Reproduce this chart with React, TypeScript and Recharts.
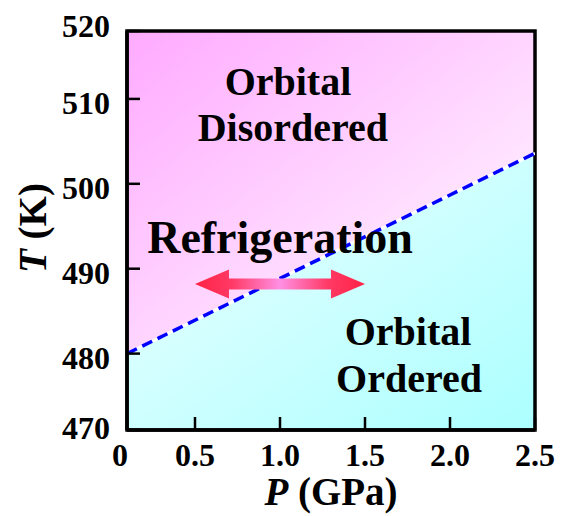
import React from 'react';
import {
  ComposedChart,
  Area,
  Line,
  Scatter,
  XAxis,
  YAxis,
  ReferenceArea,
  ReferenceLine,
  Label,
} from 'recharts';

// phase boundary T(P)
const boundaryP = [0.1, 2.5];
const boundaryT = [480, 503.6];

// axis extent as drawn (corner labels sit at the frame edges)
const pRange = [0.1, 2.5];
const tRange = [471, 518];

const xTickValues = [0.1, 0.5, 1.0, 1.5, 2.0, 2.5];
const xTickLabels = ['0', '0.5', '1.0', '1.5', '2.0', '2.5'];
const yTickValues = [471, 480, 490, 500, 510, 518];
const yTickLabels = ['470', '480', '490', '500', '510', '520'];

// refrigeration arrow (P from, P to, T)
const arrowP = [0.5, 1.5];
const arrowT = 488.2;

// region labels
const regionText = ['Orbital', 'Disordered', 'Orbital', 'Ordered'];
const regionP = [1.047, 1.076, 1.753, 1.759];
const regionT = [510.5, 505.0, 481.0, 475.5];

const mainText = ['Refrigeration'];
const mainP = [1.0];
const mainT = [491.9];

const boundary = boundaryP.map((p, i) => ({ p, t: boundaryT[i] }));
const regionLabels = regionText.map((text, i) => ({ p: regionP[i], t: regionT[i], text }));
const mainLabels = mainText.map((text, i) => ({ p: mainP[i], t: mainT[i], text }));

const FONT = "'Liberation Serif', 'Times New Roman', serif";

const XTick = (props: any) => {
  const { x, y, payload, index } = props;
  const shift = index === 0 ? -7 : 0;
  return (
    <text x={x + shift} y={y + 36} textAnchor="middle" fontFamily={FONT} fontWeight="bold" fontSize={32} fill="#000">
      {xTickLabels[xTickValues.indexOf(payload.value)]}
    </text>
  );
};

const YTick = (props: any) => {
  const { x, y, payload, index } = props;
  let shift = 4;
  if (index === yTickValues.length - 1) shift = -5;
  if (index === 0) shift = -2;
  return (
    <text x={x} y={y + shift + 11} textAnchor="end" fontFamily={FONT} fontWeight="bold" fontSize={32} fill="#000">
      {yTickLabels[yTickValues.indexOf(payload.value)]}
    </text>
  );
};

const textShape = (size: number) => (props: any) => (
  <text x={props.cx} y={props.cy} textAnchor="middle" fontFamily={FONT} fontWeight="bold" fontSize={size} fill="#000">
    {props.payload.text}
  </text>
);

const ArrowShape = (props: any) => {
  const { x1, x2, y1 } = props;
  const head = 34;
  const hh = 14.5;
  const sh = 5.5;
  const y = y1;
  const pts = [
    [x1, y],
    [x1 + head, y - hh],
    [x1 + head, y - sh],
    [x2 - head, y - sh],
    [x2 - head, y - hh],
    [x2, y],
    [x2 - head, y + hh],
    [x2 - head, y + sh],
    [x1 + head, y + sh],
    [x1 + head, y + hh],
  ];
  return (
    <g>
      <defs>
        <linearGradient id="arrowGrad" gradientUnits="userSpaceOnUse" x1={x1} y1={0} x2={x2} y2={0}>
          <stop offset="0" stopColor="#ff2244" />
          <stop offset="0.22" stopColor="#ff3a66" />
          <stop offset="0.5" stopColor="#ff90e4" />
          <stop offset="0.78" stopColor="#ff3a66" />
          <stop offset="1" stopColor="#ff2244" />
        </linearGradient>
      </defs>
      <polygon points={pts.map((p) => p.join(',')).join(' ')} fill="url(#arrowGrad)" />
    </g>
  );
};

export default function App() {
  return (
    <div style={{ width: 555, height: 508 }}>
      <ComposedChart width={555} height={508} data={boundary} margin={{ top: 23, right: 28, bottom: 0, left: 0 }}>
        <defs>
          <linearGradient id="pinkGrad" x1="0" y1="0" x2="1" y2="1">
            <stop offset="0" stopColor="#ffaaff" />
            <stop offset="1" stopColor="#ffffff" />
          </linearGradient>
          <linearGradient id="cyanGrad" x1="0" y1="0" x2="1" y2="1">
            <stop offset="0" stopColor="#f0ffff" />
            <stop offset="1" stopColor="#acffff" />
          </linearGradient>
        </defs>
        <XAxis
          type="number"
          dataKey="p"
          domain={pRange}
          ticks={xTickValues}
          allowDataOverflow
          height={86}
          tickSize={-13}
          tickMargin={13}
          tick={<XTick />}
          tickLine={{ stroke: '#000', strokeWidth: 2.5 }}
          axisLine={{ stroke: '#000', strokeWidth: 3.5 }}
          interval={0}
        >
          <Label
            content={(props: any) => {
              const vb = props.viewBox;
              return (
                <text x={vb.x + vb.width / 2} y={vb.y + 75} textAnchor="middle" fontFamily={FONT} fontWeight="bold" fontSize={39} fill="#000">
                  <tspan fontStyle="italic">P</tspan> (GPa)
                </text>
              );
            }}
          />
        </XAxis>
        <YAxis
          type="number"
          domain={tRange}
          ticks={yTickValues}
          allowDataOverflow
          width={119}
          tickSize={-13}
          tickMargin={30}
          tick={<YTick />}
          tickLine={{ stroke: '#000', strokeWidth: 2.5 }}
          axisLine={{ stroke: '#000', strokeWidth: 3.5 }}
          interval={0}
        >
          <Label
            content={() => (
              <text x={38} y={220} transform="rotate(-90 38 220)" textAnchor="middle" fontFamily={FONT} fontWeight="bold" fontSize={39} fill="#000">
                <tspan fontStyle="italic">T</tspan> (K)
              </text>
            )}
          />
        </YAxis>
        <Area
          type="linear"
          dataKey={(d: any) => [d.t, tRange[1]]}
          stroke="none"
          fill="url(#pinkGrad)"
          fillOpacity={1}
          isAnimationActive={false}
        />
        <Area
          type="linear"
          dataKey={(d: any) => [tRange[0], d.t]}
          stroke="none"
          fill="url(#cyanGrad)"
          fillOpacity={1}
          isAnimationActive={false}
        />
        <Line type="linear" dataKey="t" stroke="#ffffff" strokeWidth={3} dot={false} isAnimationActive={false} />
        <Line
          type="linear"
          dataKey="t"
          stroke="#0000ff"
          strokeWidth={3.5}
          strokeDasharray="11 6"
          dot={false}
          isAnimationActive={false}
        />
        <ReferenceLine
          segment={[
            { x: arrowP[0], y: arrowT },
            { x: arrowP[1], y: arrowT },
          ]}
          shape={(props: any) => <ArrowShape {...props} />}
        />
        <Scatter data={regionLabels} dataKey="t" shape={textShape(40)} isAnimationActive={false} />
        <Scatter data={mainLabels} dataKey="t" shape={textShape(46)} isAnimationActive={false} />
        <ReferenceArea
          x1={pRange[0]}
          x2={pRange[1]}
          y1={tRange[0]}
          y2={tRange[1]}
          fill="none"
          stroke="#000"
          strokeWidth={3.5}
          ifOverflow="visible"
        />
      </ComposedChart>
    </div>
  );
}
